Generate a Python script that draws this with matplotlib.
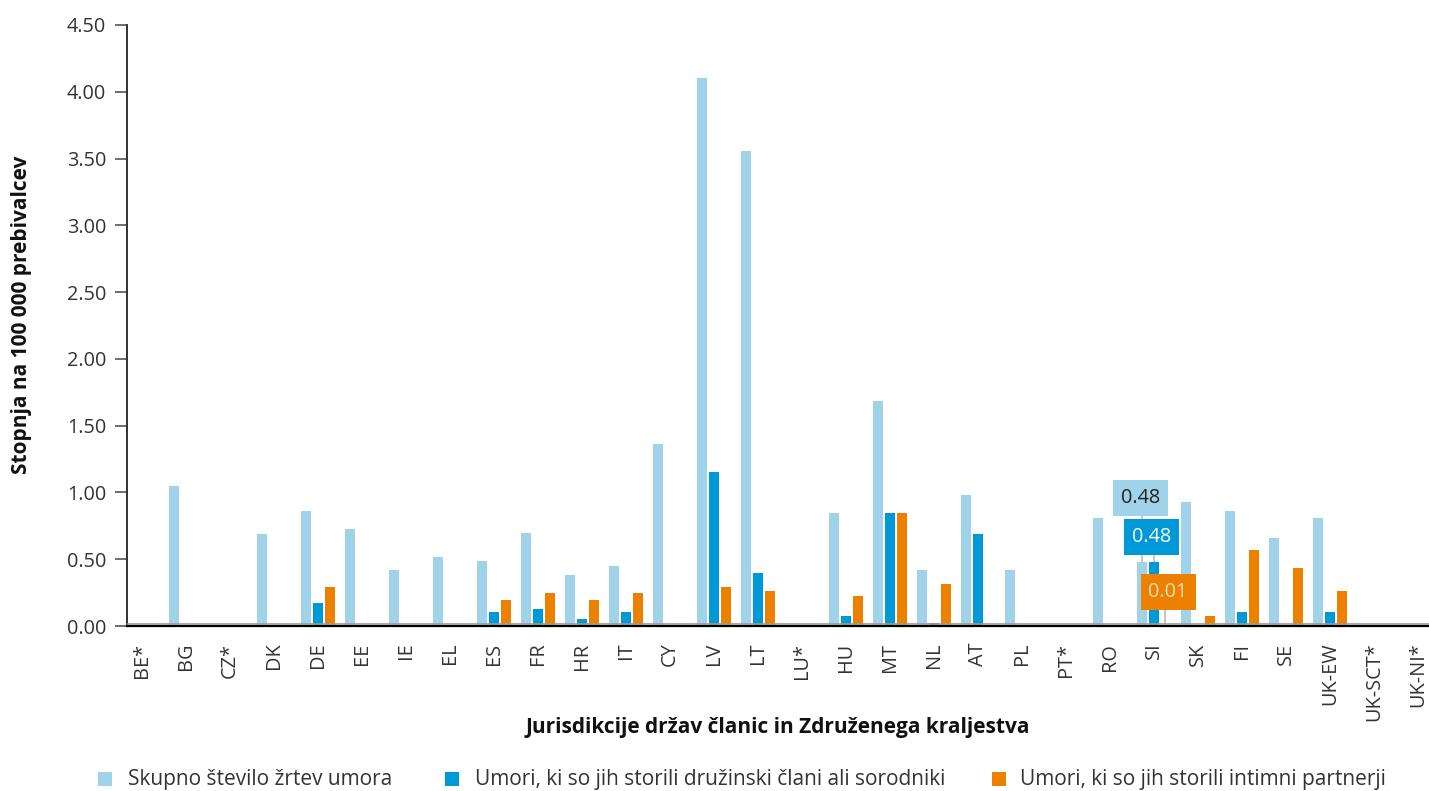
import matplotlib
matplotlib.use("Agg")
import matplotlib.pyplot as plt
from matplotlib.patches import Rectangle
import numpy as np

plt.rcParams['font.family'] = ['Open Sans', 'DejaVu Sans']

categories = ["BE*", "BG", "CZ*", "DK", "DE", "EE", "IE", "EL", "ES", "FR", "HR", "IT", "CY",
              "LV", "LT", "LU*", "HU", "MT", "NL", "AT", "PL", "PT*", "RO", "SI", "SK", "FI",
              "SE", "UK-EW", "UK-SCT*", "UK-NI*"]
total = [0, 1.05, 0, 0.69, 0.86, 0.73, 0.42, 0.52, 0.49, 0.70, 0.38, 0.45, 1.36,
         4.10, 3.555, 0, 0.846, 1.684, 0.42, 0.98, 0.42, 0, 0.81, 0.48, 0.93, 0.86,
         0.66, 0.81, 0, 0]
family = [0, 0, 0, 0, 0.17, 0, 0, 0, 0.105, 0.127, 0.052, 0.105, 0,
          1.15, 0.40, 0, 0.075, 0.846, 0.02, 0.69, 0, 0, 0, 0.48, 0, 0.105,
          0, 0.105, 0, 0]
partner = [0, 0, 0, 0, 0.29, 0, 0, 0, 0.195, 0.247, 0.195, 0.247, 0,
           0.29, 0.26, 0, 0.225, 0.846, 0.314, 0, 0, 0, 0, 0.01, 0.075, 0.57,
           0.435, 0.26, 0, 0]
series_names = ["Skupno število žrtev umora",
                "Umori, ki so jih storili družinski člani ali sorodniki",
                "Umori, ki so jih storili intimni partnerji"]
yticks = [0, 0.5, 1.0, 1.5, 2.0, 2.5, 3.0, 3.5, 4.0, 4.5]

C_LIGHT = "#a0d3ea"
C_BLUE = "#0099d8"
C_ORANGE = "#ee8000"
TXT = "#333333"
FS_TICK = 14.3
FS_LAB = 15

W, H = 1429, 791
fig = plt.figure(figsize=(W / 100, H / 100), dpi=100)
ax = fig.add_axes([127 / W, (H - 626) / H, (W - 127) / W, 601 / H])

x = np.arange(len(categories))
bw = 0.227
off = 0.273
ax.bar(x - off, total, bw, color=C_LIGHT, zorder=2)
ax.bar(x, family, bw, color=C_BLUE, zorder=2)
ax.bar(x + off, partner, bw, color=C_ORANGE, zorder=2)

ax.set_xlim(-0.34, len(categories) - 1 + 0.25)
ax.set_ylim(0, 4.5)
ax.set_yticks(yticks)
ax.set_yticklabels([f"{v:.2f}" for v in yticks], fontsize=FS_TICK, color=TXT)
ax.set_xticks(x)
ax.set_xticklabels(categories, rotation=90, fontsize=FS_TICK, color=TXT)
ax.tick_params(axis='x', length=0, pad=12)
ax.tick_params(axis='y', length=9, width=1.2, color="#555555", pad=6)
for s in ['top', 'right']:
    ax.spines[s].set_visible(False)
ax.spines['left'].set_color("#222222")
ax.spines['left'].set_linewidth(1.3)
ax.spines['bottom'].set_color("#000000")
ax.spines['bottom'].set_linewidth(1.6)
ax.axhline(0.012, color="#999999", lw=1.2, zorder=3)

ax.set_ylabel("Stopnja na 100 000 prebivalcev", fontsize=FS_LAB, fontweight='bold', color="#111111")
ax.yaxis.set_label_coords(-95 / (W - 127), (626 - 315) / 601)
ax.set_xlabel("Jurisdikcije držav članic in Združenega kraljestva", fontsize=FS_LAB,
              fontweight='bold', color="#111111")
ax.xaxis.set_label_coords(0.5, -(717 - 626) / 601)

# SI annotations
si = categories.index("SI")
lc = "#bbbbbb"
ax.plot([si - off, si - off], [total[si], 0.958], color=lc, lw=1.2, zorder=1)
ax.plot([si, si], [family[si], 0.666], color=lc, lw=1.2, zorder=1)
ax.plot([si + 0.245, si + 0.245], [0.02, 0.254], color=lc, lw=1.2, zorder=1)
ax.text(si - 0.30, 0.958, f"{total[si]:.2f}", ha='center', va='center', fontsize=FS_TICK,
        color="#222222", zorder=5,
        bbox=dict(boxstyle='square,pad=0.4', fc=C_LIGHT, ec='none'))
ax.text(si - 0.05, 0.666, f"{family[si]:.2f}", ha='center', va='center', fontsize=FS_TICK,
        color="white", zorder=5,
        bbox=dict(boxstyle='square,pad=0.4', fc=C_BLUE, ec='none'))
ax.text(si + 0.32, 0.254, f"{partner[si]:.2f}", ha='center', va='center', fontsize=FS_TICK,
        color="#f6dcc0", zorder=5,
        bbox=dict(boxstyle='square,pad=0.4', fc=C_ORANGE, ec='none'))

# Legend
leg_items = [(98, 128), (445, 475), (992, 1020)]
for (sx, tx), name, col in zip(leg_items, series_names, [C_LIGHT, C_BLUE, C_ORANGE]):
    fig.patches.append(Rectangle((sx / W, (H - 786) / H), 14 / W, 14 / H,
                                 transform=fig.transFigure, fc=col, ec='none'))
    fig.text(tx / W, (H - 779) / H, name, fontsize=FS_LAB, color=TXT, va='center', ha='left')

fig.savefig("out.png", dpi=100)
